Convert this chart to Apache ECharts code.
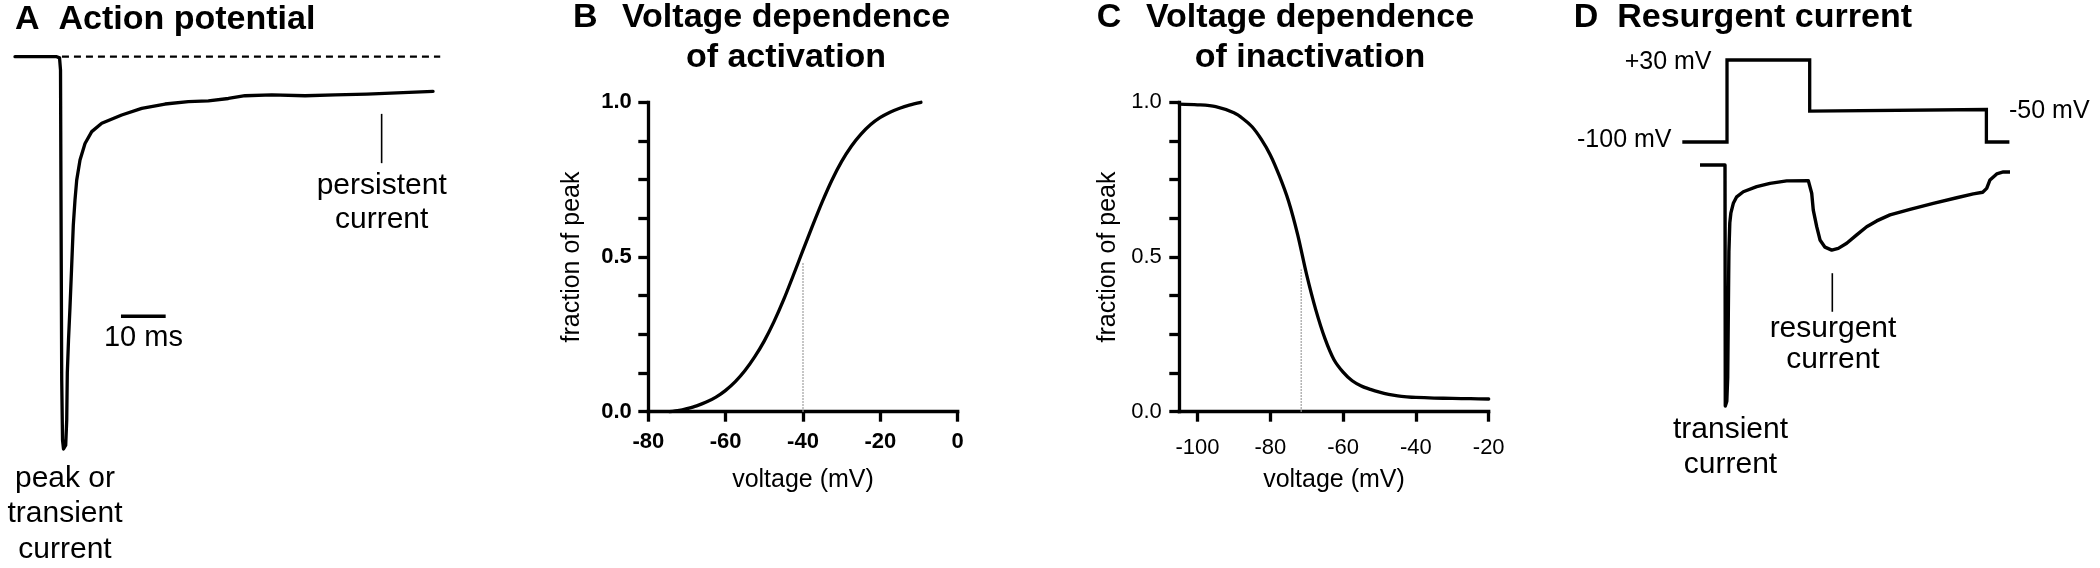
<!DOCTYPE html>
<html>
<head>
<meta charset="utf-8">
<script src="https://cdn.jsdelivr.net/npm/echarts@6/dist/echarts.min.js"></script>
<style>
html,body{margin:0;padding:0;background:#fff;}
#chart{width:2100px;height:568px;}
</style>
</head>
<body>
<div id="chart"></div>
<script>
// ---------- Panel A: action potential (time in ms, current normalised to peak) ----------
const apTime = [0, 9.33, 9.96, 10.18, 10.29, 10.45, 10.63, 10.85, 11.07, 11.34, 11.57, 11.70, 11.97, 12.3, 12.64, 13.04, 13.42, 13.8, 14.54, 15.66, 17.16, 19.4, 23.87, 28.34, 33.56, 38.77, 43.24, 47.72, 51.45, 57.43, 64.88, 71.6, 78.7, 93.5];
const apCurrent = [0, 0, -0.003, -0.034, -0.364, -0.82, -0.972, -0.995, -1.0, -0.985, -0.921, -0.802, -0.718, -0.635, -0.541, -0.427, -0.363, -0.313, -0.262, -0.22, -0.19, -0.169, -0.148, -0.131, -0.12, -0.114, -0.112, -0.106, -0.099, -0.097, -0.099, -0.097, -0.095, -0.088];
const apZeroTime = [10.5, 95.1];
const apZeroCurrent = [0, 0];
const scaleBarTime = [23.7, 33.7];          // 10 ms
const scaleBarCurrent = [-0.658, -0.658];
const persistentTickTime = [82.0, 82.0];
const persistentTickCurrent = [-0.145, -0.27];

// ---------- Panel B: voltage dependence of activation ----------
const actVoltage = [-74.5, -72, -70, -67.5, -65, -62.5, -60, -57.5, -55, -52.5, -50, -47.5, -45, -42.5, -40, -37.5, -35, -32.5, -30, -27.5, -25, -22.5, -20, -17.5, -15, -12.5, -9.5];
const actFraction = [0, 0.004, 0.010, 0.019, 0.031, 0.047, 0.069, 0.097, 0.133, 0.177, 0.229, 0.291, 0.362, 0.441, 0.522, 0.602, 0.679, 0.749, 0.809, 0.858, 0.897, 0.928, 0.951, 0.968, 0.981, 0.991, 1.0];
const actHalfVoltage = [-40, -40];
const actHalfFraction = [0, 0.48];
const actXTicks = [-80, -60, -40, -20, 0];

// ---------- Panel C: voltage dependence of inactivation ----------
const inactVoltage = [-105, -100, -95, -90, -87.5, -85, -82.5, -80, -77.5, -75, -72.5, -70, -67.5, -65, -62.5, -60, -57.5, -55, -52.5, -50, -47.5, -45, -42.5, -40, -35, -30, -25, -20];
const inactFraction = [0.994, 0.992, 0.986, 0.966, 0.947, 0.921, 0.881, 0.83, 0.762, 0.681, 0.573, 0.442, 0.329, 0.237, 0.168, 0.128, 0.1, 0.083, 0.072, 0.063, 0.056, 0.051, 0.048, 0.046, 0.044, 0.043, 0.042, 0.041];
const inactHalfVoltage = [-71.5, -71.5];
const inactHalfFraction = [0, 0.46];
const inactXTicks = [-100, -80, -60, -40, -20];

const yTicks = [0, 0.125, 0.25, 0.375, 0.5, 0.625, 0.75, 0.875, 1];
const yLabels = [0, 0.5, 1];

// ---------- Panel D: resurgent current ----------
const protocolTime = [0.77, 15.67, 15.67, 43.23, 43.23, 102.13, 102.13, 109.8];
const protocolVoltage = [-100, -100, 30, 30, -51, -48.5, -100, -100];
const resTime = [6.67, 15, 15.05, 15.1, 15.35, 15.6, 15.9, 16.1, 16.3, 16.6, 16.95, 17.77, 18.9, 21.1, 25.57, 30, 35.57, 42.77, 43.33, 43.9, 44.43, 45.57, 46.67, 48.33, 50.57, 52.77, 55.57, 58.9, 62.23, 65.57, 70, 76.67, 84.43, 92.23, 97.77, 100.9, 102.23, 103.33, 105.57, 107.77, 110];
const resCurrent = [0, 0, -0.004, -1.0, -1.0, -0.98, -0.88, -0.62, -0.36, -0.24, -0.2, -0.159, -0.132, -0.111, -0.09, -0.076, -0.066, -0.065, -0.066, -0.117, -0.187, -0.256, -0.311, -0.341, -0.353, -0.346, -0.325, -0.29, -0.256, -0.232, -0.207, -0.184, -0.159, -0.136, -0.12, -0.113, -0.097, -0.062, -0.037, -0.029, -0.029];
const resurgentTickTime = [50.77, 50.77];
const resurgentTickCurrent = [-0.449, -0.609];

// ---------- helpers ----------
const zip = (a, b) => a.map((v, i) => [v, b[i]]);
const FONT = '"Liberation Sans", Arial, Helvetica, sans-serif';
const INK = '#000';

function line(xi, yi, data, extra) {
  return Object.assign({
    type: 'line', xAxisIndex: xi, yAxisIndex: yi, data: data,
    showSymbol: false, symbol: 'none', clip: false, silent: true,
    lineStyle: { color: INK, width: 3.3, cap: 'round', join: 'round' }
  }, extra || {});
}

function hiddenAxis(gi, min, max) {
  return { gridIndex: gi, type: 'value', min: min, max: max, show: false };
}

function plotXAxis(gi, min, max, ticks, bold, gap) {
  return {
    gridIndex: gi, type: 'value', min: min, max: max,
    axisLine: { show: true, onZero: false, lineStyle: { color: INK, width: 3.3, cap: 'square' } },
    axisTick: { show: true, length: 10, customValues: ticks, lineStyle: { color: INK, width: 3.3 } },
    axisLabel: { customValues: ticks, color: INK, fontSize: 22, fontFamily: FONT, fontWeight: bold ? 'bold' : 'normal', margin: gap },
    splitLine: { show: false },
    name: 'voltage (mV)', nameLocation: 'middle', nameGap: 55.5,
    nameTextStyle: { color: INK, fontSize: 25, fontFamily: FONT }
  };
}

function plotYAxis(gi, bold, nameGap, labelMargin) {
  return {
    gridIndex: gi, type: 'value', min: 0, max: 1,
    axisLine: { show: true, onZero: false, lineStyle: { color: INK, width: 3.3, cap: 'square' } },
    axisTick: { show: true, length: 10, customValues: yTicks, lineStyle: { color: INK, width: 3.3 } },
    axisLabel: { customValues: yLabels, formatter: v => Number(v).toFixed(1), color: INK, fontSize: 22, fontFamily: FONT, fontWeight: bold ? 'bold' : 'normal', margin: labelMargin },
    splitLine: { show: false },
    name: 'fraction of peak', nameLocation: 'middle', nameGap: nameGap, nameRotate: 90,
    nameTextStyle: { color: INK, fontSize: 25, fontFamily: FONT }
  };
}

function txt(t, x, y, size, opts) {
  opts = opts || {};
  return {
    type: 'text', x: x, y: y, silent: true,
    style: {
      text: t, fill: INK,
      font: (opts.bold ? 'bold ' : '') + size + 'px ' + FONT,
      textAlign: opts.align || 'left', align: opts.align || 'left',
      textVerticalAlign: 'middle', verticalAlign: 'middle'
    }
  };
}

const chart = echarts.init(document.getElementById('chart'), null, { renderer: 'canvas' });

const option = {
  animation: false,
  backgroundColor: '#fff',
  grid: [
    { left: 15, top: 56.7, width: 427, height: 394.3 },        // A
    { left: 648.3, top: 102.3, width: 309.4, height: 309.4 },  // B
    { left: 1179.3, top: 102.3, width: 309.4, height: 309.4 }, // C
    { left: 1680, top: 53.7, width: 330, height: 94.6 },       // D voltage
    { left: 1680, top: 165, width: 330, height: 241 }          // D current
  ],
  xAxis: [
    hiddenAxis(0, 0, 95.5),
    plotXAxis(1, -80, 0, actXTicks, true, 19),
    plotXAxis(2, -105, -20, inactXTicks, false, 25),
    hiddenAxis(3, 0, 110),
    hiddenAxis(4, 0, 110)
  ],
  yAxis: [
    hiddenAxis(0, -1, 0),
    plotYAxis(1, true, 64, 16.5),
    plotYAxis(2, false, 59, 17.5),
    hiddenAxis(3, -110, 40),
    hiddenAxis(4, -1, 0)
  ],
  series: [
    // A
    line(0, 0, zip(apZeroTime, apZeroCurrent), { lineStyle: { color: INK, width: 2.2, type: [7, 5] } }),
    line(0, 0, zip(apTime, apCurrent)),
    line(0, 0, zip(scaleBarTime, scaleBarCurrent), { lineStyle: { color: INK, width: 3.5, cap: 'butt' } }),
    line(0, 0, zip(persistentTickTime, persistentTickCurrent), { lineStyle: { color: INK, width: 1.6 } }),
    // B
    line(1, 1, zip(actHalfVoltage, actHalfFraction), { lineStyle: { color: '#9a9a9a', width: 1.5, type: 'dotted' } }),
    line(1, 1, zip(actVoltage, actFraction), { smooth: 0.3 }),
    // C
    line(2, 2, zip(inactHalfVoltage, inactHalfFraction), { lineStyle: { color: '#9a9a9a', width: 1.5, type: 'dotted' } }),
    line(2, 2, zip(inactVoltage, inactFraction), { smooth: 0.3 }),
    // D
    line(3, 3, zip(protocolTime, protocolVoltage), { lineStyle: { color: INK, width: 3.3, cap: 'butt', join: 'miter' } }),
    line(4, 4, zip(resTime, resCurrent), { lineStyle: { color: INK, width: 3.4, cap: 'butt', join: 'round' } }),
    line(4, 4, zip(resurgentTickTime, resurgentTickCurrent), { lineStyle: { color: INK, width: 1.6 } })
  ],
  graphic: [
    // titles
    txt('A  Action potential', 15, 19.6, 34, { bold: true }),
    txt('B', 573, 18, 34, { bold: true }),
    txt('Voltage dependence', 786, 18, 34, { bold: true, align: 'center' }),
    txt('of activation', 786, 57.8, 34, { bold: true, align: 'center' }),
    txt('C', 1096.7, 18, 34, { bold: true }),
    txt('Voltage dependence', 1310, 18, 34, { bold: true, align: 'center' }),
    txt('of inactivation', 1310, 57.8, 34, { bold: true, align: 'center' }),
    txt('D  Resurgent current', 1573.8, 18, 34, { bold: true }),
    // panel A annotations
    txt('persistent', 381.7, 185.7, 30, { align: 'center' }),
    txt('current', 381.7, 220.1, 30, { align: 'center' }),
    txt('10 ms', 143.4, 338.4, 29, { align: 'center' }),
    txt('peak or', 65, 479.1, 30, { align: 'center' }),
    txt('transient', 65, 513.6, 30, { align: 'center' }),
    txt('current', 65, 550.1, 30, { align: 'center' }),
    // panel D annotations
    txt('+30 mV', 1711.5, 62.4, 25, { align: 'right' }),
    txt('-100 mV', 1577, 140.2, 25),
    txt('-50 mV', 2009, 111.3, 25),
    txt('resurgent', 1833, 328.4, 30, { align: 'center' }),
    txt('current', 1833, 360.1, 30, { align: 'center' }),
    txt('transient', 1730.5, 430.1, 30, { align: 'center' }),
    txt('current', 1730.5, 464.7, 30, { align: 'center' })
  ]
};

chart.setOption(option);
</script>
</body>
</html>
